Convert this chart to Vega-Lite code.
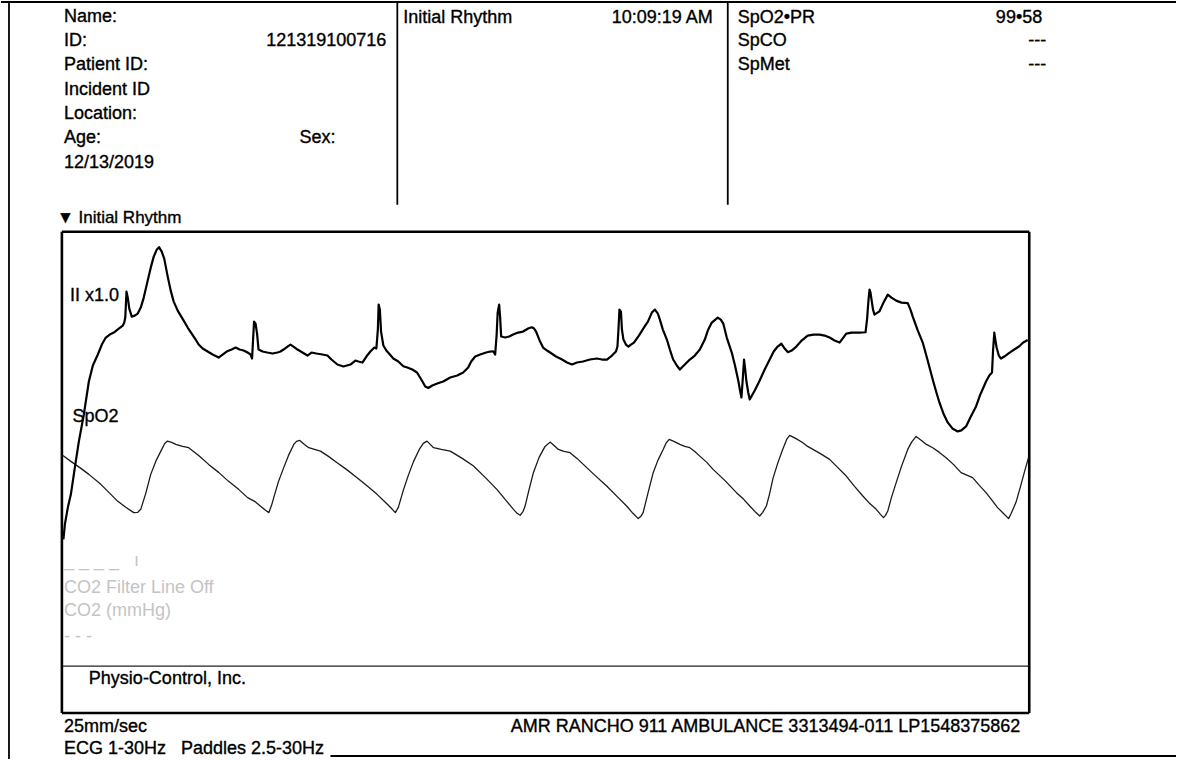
{
  "$schema": "https://vega.github.io/schema/vega-lite/v6.json",
  "width": 1177,
  "height": 760,
  "autosize": {"type": "fit", "contains": "padding"},
  "padding": 0,
  "background": "white",
  "config": {"view": {"stroke": null}},
  "encoding": {
    "x": {"field": "x", "type": "quantitative", "scale": {"domain": [0, 1177], "nice": false, "zero": false}, "axis": null},
    "y": {"field": "y", "type": "quantitative", "scale": {"domain": [0, 760], "reverse": true, "nice": false, "zero": false}, "axis": null}
  },
  "datasets": {
    "pageLines": [
      {"x": 8, "y": 3, "x2": 8, "y2": 760},
      {"x": 0, "y": 2, "x2": 1177, "y2": 2},
      {"x": 397, "y": 3, "x2": 397, "y2": 205},
      {"x": 728, "y": 3, "x2": 728, "y2": 205},
      {"x": 330, "y": 757, "x2": 1177, "y2": 757}
    ],
    "boxLines": [
      {"x": 61, "y": 232, "x2": 1030, "y2": 232},
      {"x": 61, "y": 714, "x2": 1030, "y2": 714},
      {"x": 61, "y": 232, "x2": 61, "y2": 714},
      {"x": 1030, "y": 232, "x2": 1030, "y2": 714}
    ],
    "innerLines": [
      {"x": 61, "y": 667, "x2": 1030, "y2": 667}
    ],
    "textLeft": [
      {"x": 63, "y": 22, "label": "Name:"},
      {"x": 63, "y": 46, "label": "ID:"},
      {"x": 63, "y": 70.5, "label": "Patient ID:"},
      {"x": 63, "y": 95, "label": "Incident ID"},
      {"x": 63, "y": 119.5, "label": "Location:"},
      {"x": 63, "y": 143.5, "label": "Age:"},
      {"x": 299, "y": 143.5, "label": "Sex:"},
      {"x": 63, "y": 168, "label": "12/13/2019"},
      {"x": 403, "y": 23, "label": "Initial Rhythm"},
      {"x": 738, "y": 23, "label": "SpO2•PR"},
      {"x": 738, "y": 46.5, "label": "SpCO"},
      {"x": 738, "y": 70, "label": "SpMet"},
      {"x": 88, "y": 684.5, "label": "Physio-Control, Inc."},
      {"x": 63, "y": 733, "label": "25mm/sec"},
      {"x": 63, "y": 755, "label": "ECG 1-30Hz\u00a0\u00a0\u00a0Paddles 2.5-30Hz"},
      {"x": 69, "y": 301.5, "label": "II x1.0"},
      {"x": 71.5, "y": 422.5, "label": "SpO2"}
    ],
    "textSection": [
      {"x": 56, "y": 223, "label": "▼ Initial Rhythm"}
    ],
    "textRight": [
      {"x": 386, "y": 46, "label": "121319100716"},
      {"x": 713, "y": 23, "label": "10:09:19 AM"},
      {"x": 1043, "y": 23, "label": "99•58"},
      {"x": 1047, "y": 46.5, "label": "---"},
      {"x": 1047, "y": 70, "label": "---"},
      {"x": 1021, "y": 732.5, "label": "AMR RANCHO 911 AMBULANCE 3313494-011 LP1548375862"}
    ],
    "textFaint": [
      {"x": 63, "y": 567, "label": "_ _ _ _\u00a0\u00a0\u00a0ı"},
      {"x": 63, "y": 594, "label": "CO2 Filter Line Off"},
      {"x": 63, "y": 617, "label": "CO2 (mmHg)"},
      {"x": 63, "y": 643, "label": "- - -"}
    ],
    "ecg": [
      {"x": 62.5, "y": 540}, {"x": 64, "y": 525}, {"x": 67, "y": 508}, {"x": 70, "y": 495}, {"x": 74, "y": 468},
      {"x": 78, "y": 442}, {"x": 83, "y": 415}, {"x": 88, "y": 382}, {"x": 92, "y": 366}, {"x": 97, "y": 355},
      {"x": 101, "y": 345}, {"x": 105, "y": 338}, {"x": 109, "y": 335}, {"x": 113, "y": 333}, {"x": 118, "y": 329},
      {"x": 122, "y": 326}, {"x": 123.5, "y": 323}, {"x": 124.5, "y": 318}, {"x": 125.7, "y": 292}, {"x": 127, "y": 298},
      {"x": 128.5, "y": 309}, {"x": 131, "y": 317}, {"x": 134, "y": 316}, {"x": 137, "y": 314}, {"x": 140, "y": 308},
      {"x": 143, "y": 298}, {"x": 146, "y": 285}, {"x": 150, "y": 268}, {"x": 153, "y": 257}, {"x": 156, "y": 250},
      {"x": 158.3, "y": 247.5}, {"x": 161, "y": 252}, {"x": 163.5, "y": 259}, {"x": 167, "y": 277}, {"x": 170, "y": 291},
      {"x": 173, "y": 302}, {"x": 177, "y": 311}, {"x": 180, "y": 316}, {"x": 183, "y": 321}, {"x": 187, "y": 328},
      {"x": 191, "y": 334}, {"x": 195, "y": 340}, {"x": 198, "y": 345}, {"x": 202, "y": 349}, {"x": 207, "y": 352},
      {"x": 212, "y": 355}, {"x": 218, "y": 358}, {"x": 222, "y": 355}, {"x": 226, "y": 352}, {"x": 231, "y": 350},
      {"x": 235, "y": 348}, {"x": 239, "y": 350}, {"x": 243, "y": 351}, {"x": 247, "y": 353}, {"x": 250, "y": 355},
      {"x": 251.5, "y": 359}, {"x": 252.5, "y": 340}, {"x": 253.5, "y": 322}, {"x": 255, "y": 324}, {"x": 256.5, "y": 334},
      {"x": 258, "y": 350}, {"x": 262, "y": 352}, {"x": 266.7, "y": 353}, {"x": 272, "y": 354}, {"x": 277, "y": 353},
      {"x": 280, "y": 352}, {"x": 283, "y": 350}, {"x": 287, "y": 347}, {"x": 290, "y": 345}, {"x": 293, "y": 347},
      {"x": 297, "y": 350}, {"x": 302, "y": 353}, {"x": 307, "y": 356}, {"x": 311, "y": 353}, {"x": 316, "y": 354},
      {"x": 322, "y": 355}, {"x": 327, "y": 356}, {"x": 331, "y": 360}, {"x": 337, "y": 365}, {"x": 343, "y": 367},
      {"x": 350, "y": 365}, {"x": 355, "y": 361}, {"x": 358, "y": 362}, {"x": 362, "y": 363}, {"x": 366, "y": 357},
      {"x": 370, "y": 352}, {"x": 374, "y": 348}, {"x": 376, "y": 349}, {"x": 377.5, "y": 330}, {"x": 378.3, "y": 305},
      {"x": 379.5, "y": 310}, {"x": 380.7, "y": 332}, {"x": 383, "y": 346}, {"x": 386, "y": 351}, {"x": 393, "y": 359},
      {"x": 398, "y": 362}, {"x": 403, "y": 366.7}, {"x": 407, "y": 368}, {"x": 412, "y": 370}, {"x": 416.7, "y": 373},
      {"x": 421, "y": 380}, {"x": 425, "y": 387}, {"x": 428, "y": 388.5}, {"x": 432, "y": 386}, {"x": 437, "y": 384},
      {"x": 443, "y": 382}, {"x": 450, "y": 378}, {"x": 457, "y": 376}, {"x": 463, "y": 373}, {"x": 468, "y": 368},
      {"x": 471, "y": 362}, {"x": 475, "y": 357}, {"x": 480, "y": 355}, {"x": 486, "y": 353}, {"x": 490, "y": 352},
      {"x": 493, "y": 351.7}, {"x": 495, "y": 355}, {"x": 496.5, "y": 335}, {"x": 497.5, "y": 313}, {"x": 499, "y": 305},
      {"x": 500, "y": 318}, {"x": 501, "y": 337}, {"x": 505, "y": 338}, {"x": 509, "y": 337}, {"x": 513, "y": 335},
      {"x": 518, "y": 333}, {"x": 523, "y": 332}, {"x": 528, "y": 329}, {"x": 531.7, "y": 327.7}, {"x": 534, "y": 329},
      {"x": 536, "y": 332}, {"x": 540, "y": 342}, {"x": 543, "y": 348}, {"x": 547, "y": 351}, {"x": 550, "y": 353},
      {"x": 556, "y": 357}, {"x": 562, "y": 360}, {"x": 567, "y": 363}, {"x": 572, "y": 365}, {"x": 577, "y": 363},
      {"x": 583, "y": 362}, {"x": 590, "y": 360}, {"x": 597, "y": 359}, {"x": 602, "y": 360}, {"x": 607, "y": 360},
      {"x": 612, "y": 356}, {"x": 616, "y": 352}, {"x": 617.5, "y": 347}, {"x": 618.5, "y": 330}, {"x": 619.5, "y": 310},
      {"x": 621, "y": 312}, {"x": 622, "y": 330}, {"x": 623.5, "y": 340}, {"x": 626, "y": 345}, {"x": 628.5, "y": 347},
      {"x": 631, "y": 345}, {"x": 634, "y": 343}, {"x": 639, "y": 336}, {"x": 644, "y": 328}, {"x": 648, "y": 322},
      {"x": 652, "y": 313}, {"x": 655, "y": 310}, {"x": 658, "y": 314}, {"x": 660, "y": 320}, {"x": 663, "y": 330},
      {"x": 667, "y": 340}, {"x": 670, "y": 350}, {"x": 673.3, "y": 360}, {"x": 677, "y": 366}, {"x": 680, "y": 370},
      {"x": 685, "y": 365}, {"x": 690, "y": 360}, {"x": 695, "y": 356}, {"x": 700, "y": 350}, {"x": 705, "y": 340},
      {"x": 708, "y": 331}, {"x": 712, "y": 323}, {"x": 718, "y": 318}, {"x": 721, "y": 320}, {"x": 723.5, "y": 324},
      {"x": 727, "y": 338}, {"x": 732, "y": 353}, {"x": 735, "y": 365}, {"x": 738.3, "y": 380}, {"x": 740.5, "y": 392},
      {"x": 741.7, "y": 398}, {"x": 743, "y": 380}, {"x": 744.3, "y": 360}, {"x": 745.5, "y": 370}, {"x": 746.7, "y": 382},
      {"x": 748.5, "y": 393}, {"x": 750, "y": 400}, {"x": 755, "y": 391}, {"x": 760, "y": 381}, {"x": 765, "y": 370},
      {"x": 770, "y": 360}, {"x": 774, "y": 352}, {"x": 778, "y": 347}, {"x": 781.7, "y": 344}, {"x": 785, "y": 349},
      {"x": 788.3, "y": 352.7}, {"x": 792, "y": 351}, {"x": 796.7, "y": 347}, {"x": 802, "y": 341}, {"x": 808, "y": 336},
      {"x": 814, "y": 335}, {"x": 820, "y": 335}, {"x": 825, "y": 336}, {"x": 830, "y": 338}, {"x": 835, "y": 341},
      {"x": 840, "y": 343}, {"x": 843, "y": 339}, {"x": 846.7, "y": 334}, {"x": 852, "y": 333}, {"x": 860, "y": 333},
      {"x": 866, "y": 332.7}, {"x": 867.5, "y": 320}, {"x": 869, "y": 300}, {"x": 870, "y": 290}, {"x": 871, "y": 293},
      {"x": 872, "y": 300}, {"x": 873.5, "y": 310}, {"x": 875, "y": 315}, {"x": 878, "y": 313}, {"x": 880, "y": 311.7},
      {"x": 884, "y": 303}, {"x": 888.3, "y": 295}, {"x": 892, "y": 298}, {"x": 896.7, "y": 301}, {"x": 902, "y": 303},
      {"x": 908.3, "y": 303.5}, {"x": 911, "y": 310}, {"x": 913.3, "y": 317}, {"x": 918, "y": 330}, {"x": 923.3, "y": 343},
      {"x": 928, "y": 360}, {"x": 933.3, "y": 380}, {"x": 937, "y": 393}, {"x": 940, "y": 403}, {"x": 944, "y": 414},
      {"x": 948.3, "y": 423}, {"x": 953, "y": 429}, {"x": 958.3, "y": 432}, {"x": 962, "y": 431}, {"x": 966.7, "y": 427},
      {"x": 971, "y": 418}, {"x": 976.7, "y": 407}, {"x": 981, "y": 395}, {"x": 986.7, "y": 382}, {"x": 990, "y": 376},
      {"x": 992.7, "y": 373}, {"x": 993.8, "y": 350}, {"x": 995, "y": 333}, {"x": 996, "y": 340}, {"x": 997.3, "y": 348},
      {"x": 999.5, "y": 356}, {"x": 1001.7, "y": 359}, {"x": 1005, "y": 357}, {"x": 1010, "y": 353.3}, {"x": 1015, "y": 350},
      {"x": 1020, "y": 346.7}, {"x": 1024, "y": 343}, {"x": 1028.5, "y": 340.5}
    ],
    "spo2": [
      {"x": 62, "y": 456}, {"x": 70, "y": 462}, {"x": 80, "y": 469}, {"x": 88, "y": 475}, {"x": 100, "y": 485},
      {"x": 108, "y": 493}, {"x": 117, "y": 502}, {"x": 125, "y": 508}, {"x": 133, "y": 513.3}, {"x": 137, "y": 513},
      {"x": 140, "y": 510}, {"x": 145, "y": 494}, {"x": 150, "y": 475}, {"x": 155, "y": 462}, {"x": 160, "y": 452},
      {"x": 164, "y": 444}, {"x": 166.7, "y": 441.7}, {"x": 171, "y": 443}, {"x": 175, "y": 445}, {"x": 182, "y": 447},
      {"x": 188, "y": 448.3}, {"x": 198, "y": 456}, {"x": 208, "y": 465}, {"x": 218, "y": 473}, {"x": 228, "y": 482},
      {"x": 238, "y": 490}, {"x": 247, "y": 498.3}, {"x": 254, "y": 502}, {"x": 260, "y": 507}, {"x": 265, "y": 511},
      {"x": 268.3, "y": 513.3}, {"x": 271, "y": 506}, {"x": 273.3, "y": 498}, {"x": 278, "y": 482}, {"x": 283.3, "y": 468},
      {"x": 288, "y": 456}, {"x": 293.3, "y": 445}, {"x": 296, "y": 442}, {"x": 299.3, "y": 441}, {"x": 304, "y": 445},
      {"x": 308.3, "y": 448.3}, {"x": 314, "y": 450}, {"x": 320, "y": 451.7}, {"x": 328, "y": 457}, {"x": 336.7, "y": 463.3},
      {"x": 346, "y": 470}, {"x": 356.7, "y": 478.3}, {"x": 366, "y": 486}, {"x": 376.7, "y": 495}, {"x": 386, "y": 504},
      {"x": 392, "y": 510}, {"x": 395, "y": 513.3}, {"x": 398, "y": 508}, {"x": 403.3, "y": 490}, {"x": 408, "y": 476},
      {"x": 413.3, "y": 462}, {"x": 419, "y": 450}, {"x": 423, "y": 444}, {"x": 426.7, "y": 441.7}, {"x": 430, "y": 445},
      {"x": 433.3, "y": 448.3}, {"x": 441, "y": 450}, {"x": 450, "y": 451.7}, {"x": 462, "y": 459}, {"x": 473.3, "y": 466.7},
      {"x": 485, "y": 478}, {"x": 496.7, "y": 490}, {"x": 505, "y": 500}, {"x": 513.3, "y": 510}, {"x": 517, "y": 514},
      {"x": 520, "y": 516}, {"x": 523, "y": 512}, {"x": 525, "y": 506.7}, {"x": 529, "y": 490}, {"x": 533.3, "y": 473.3},
      {"x": 539, "y": 458}, {"x": 545, "y": 447}, {"x": 550, "y": 442.7}, {"x": 554, "y": 446}, {"x": 558.3, "y": 450},
      {"x": 564, "y": 452}, {"x": 570, "y": 453.3}, {"x": 577, "y": 459}, {"x": 583.3, "y": 465}, {"x": 595, "y": 476},
      {"x": 606.7, "y": 486.7}, {"x": 617, "y": 497}, {"x": 626.7, "y": 506.7}, {"x": 633, "y": 514}, {"x": 638.3, "y": 519.3},
      {"x": 641, "y": 517}, {"x": 643.3, "y": 513}, {"x": 648, "y": 494}, {"x": 653.3, "y": 473.3}, {"x": 658, "y": 461},
      {"x": 663.3, "y": 450}, {"x": 666, "y": 444}, {"x": 669.3, "y": 440}, {"x": 674, "y": 442}, {"x": 680, "y": 445},
      {"x": 685, "y": 447}, {"x": 690, "y": 448.3}, {"x": 695, "y": 452}, {"x": 700, "y": 456.7}, {"x": 707, "y": 463},
      {"x": 713.3, "y": 470}, {"x": 725, "y": 481}, {"x": 736.7, "y": 493.3}, {"x": 744, "y": 500}, {"x": 750, "y": 506.7},
      {"x": 756, "y": 513}, {"x": 760, "y": 516.7}, {"x": 763, "y": 513}, {"x": 766.7, "y": 506.7}, {"x": 770, "y": 494},
      {"x": 773.3, "y": 479}, {"x": 778, "y": 464}, {"x": 783, "y": 450}, {"x": 787, "y": 440}, {"x": 790, "y": 436},
      {"x": 796, "y": 439}, {"x": 803.3, "y": 443.3}, {"x": 808, "y": 447}, {"x": 813.3, "y": 450}, {"x": 822, "y": 455},
      {"x": 830, "y": 460}, {"x": 838, "y": 468}, {"x": 846.7, "y": 476.7}, {"x": 855, "y": 487}, {"x": 863.3, "y": 496.7},
      {"x": 870, "y": 504}, {"x": 876.7, "y": 510}, {"x": 881, "y": 515}, {"x": 884, "y": 518.3}, {"x": 886, "y": 516},
      {"x": 888.3, "y": 511.7}, {"x": 892, "y": 498}, {"x": 896.7, "y": 483.3}, {"x": 902, "y": 467}, {"x": 908.3, "y": 450},
      {"x": 912, "y": 443}, {"x": 916.7, "y": 437}, {"x": 922, "y": 441}, {"x": 927, "y": 445}, {"x": 933.3, "y": 448.3},
      {"x": 940, "y": 453}, {"x": 946.7, "y": 458.3}, {"x": 954, "y": 465}, {"x": 961.7, "y": 473.3}, {"x": 968, "y": 476},
      {"x": 973.3, "y": 478.3}, {"x": 980, "y": 486}, {"x": 986.7, "y": 493.3}, {"x": 992, "y": 500}, {"x": 998.3, "y": 508.3},
      {"x": 1004, "y": 514}, {"x": 1009.3, "y": 519.3}, {"x": 1012, "y": 514}, {"x": 1016.7, "y": 503}, {"x": 1021, "y": 488},
      {"x": 1025, "y": 473.3}, {"x": 1029.3, "y": 458}
    ]
  },
  "layer": [
    {
      "data": {"name": "pageLines"},
      "mark": {"type": "rule", "color": "black", "strokeWidth": 1.8},
      "encoding": {"x2": {"field": "x2"}, "y2": {"field": "y2"}}
    },
    {
      "data": {"name": "innerLines"},
      "mark": {"type": "rule", "color": "#222222", "strokeWidth": 1.2},
      "encoding": {"x2": {"field": "x2"}, "y2": {"field": "y2"}}
    },
    {
      "data": {"name": "boxLines"},
      "mark": {"type": "rule", "color": "black", "strokeWidth": 2.6},
      "encoding": {"x2": {"field": "x2"}, "y2": {"field": "y2"}}
    },
    {
      "data": {"name": "spo2"},
      "mark": {"type": "line", "color": "#1a1a1a", "strokeWidth": 1.3, "strokeJoin": "round"},
      "encoding": {}
    },
    {
      "data": {"name": "ecg"},
      "mark": {"type": "line", "color": "black", "strokeWidth": 2.2, "strokeJoin": "round"},
      "encoding": {}
    },
    {
      "data": {"name": "textLeft"},
      "mark": {"type": "text", "align": "left", "baseline": "alphabetic", "font": "Liberation Sans", "fontSize": 18, "color": "black", "stroke": "black", "strokeWidth": 0.35},
      "encoding": {"text": {"field": "label"}}
    },
    {
      "data": {"name": "textSection"},
      "mark": {"type": "text", "align": "left", "baseline": "alphabetic", "font": "Liberation Sans", "fontSize": 17, "color": "black", "stroke": "black", "strokeWidth": 0.35},
      "encoding": {"text": {"field": "label"}}
    },
    {
      "data": {"name": "textRight"},
      "mark": {"type": "text", "align": "right", "baseline": "alphabetic", "font": "Liberation Sans", "fontSize": 18, "color": "black", "stroke": "black", "strokeWidth": 0.35},
      "encoding": {"text": {"field": "label"}}
    },
    {
      "data": {"name": "textFaint"},
      "mark": {"type": "text", "align": "left", "baseline": "alphabetic", "font": "Liberation Sans", "fontSize": 18, "color": "#c4c4c4"},
      "encoding": {"text": {"field": "label"}}
    }
  ]
}
